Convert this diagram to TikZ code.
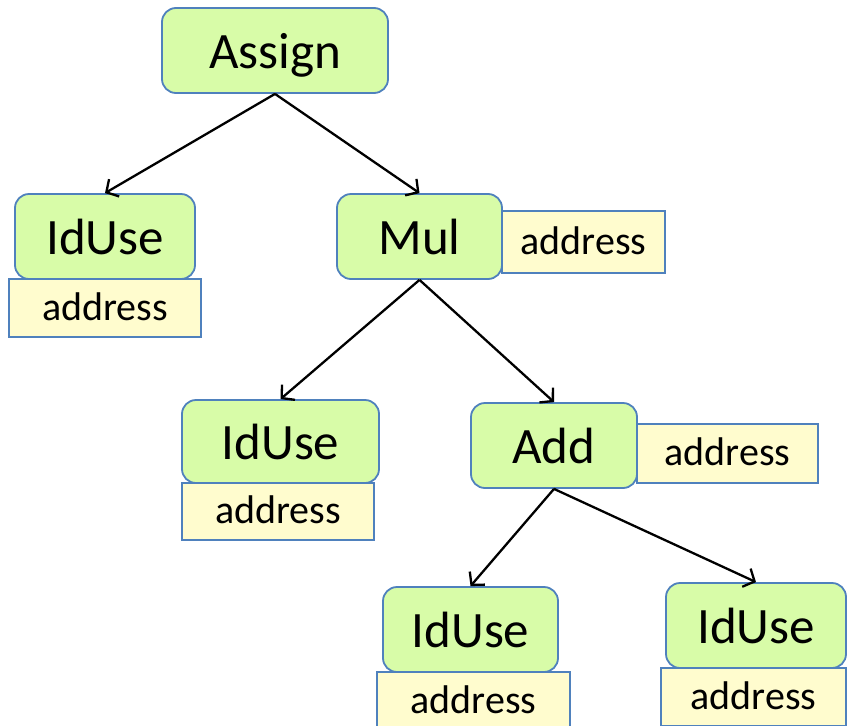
\documentclass[tikz,border=0pt]{standalone}
\usepackage{fontspec}
\setmainfont{Carlito}
\usetikzlibrary{arrows.meta}
\definecolor{nodegreen}{RGB}{216,252,168}
\definecolor{attryellow}{RGB}{255,252,206}
\definecolor{edgeblue}{RGB}{79,129,189}

\begin{document}
\begin{tikzpicture}[
        x=1pt,y=-1pt,
        astnode/.style={draw=edgeblue,fill=nodegreen,rounded corners=14pt,line width=1.8pt,
            inner sep=0pt,minimum height=85pt,text height=40pt,text depth=5pt,
            font=\fontsize{51}{56}\selectfont},
        attr/.style={draw=edgeblue,fill=attryellow,line width=1.8pt,inner sep=0pt,
            text height=30pt,text depth=6pt,font=\fontsize{40}{44}\selectfont},
        edge/.style={line width=2.3pt,-{Straight Barb[length=9pt,width=20pt,line width=2.3pt]}}
    ]
        \useasboundingbox (0,0) rectangle (847,726);

        \node [astnode,minimum width=226pt] (assign) at (275,50.5) {Assign};
        \node [astnode,minimum width=180pt] (idA) at (105,236.5) {IdUse};
        \node [astnode,minimum width=165pt] (mul) at (419.5,236.5) {Mul};
        \node [astnode,minimum width=197pt,minimum height=83pt] (idB) at (280.5,441.5) {IdUse};
        \node [astnode,minimum width=166pt] (add) at (554,445.5) {Add};
        \node [astnode,minimum width=175pt] (idC) at (470.5,629.5) {IdUse};
        \node [astnode,minimum width=180pt] (idD) at (756,625.5) {IdUse};

        \node [attr,minimum width=192pt,minimum height=58pt] (addrA) at (105,308) {address};
        \node [attr,minimum width=163pt,minimum height=62pt] (addrM) at (583.5,242) {address};
        \node [attr,minimum width=192pt,minimum height=57pt] (addrB) at (278,511.5) {address};
        \node [attr,minimum width=181pt,minimum height=59pt] (addrD) at (727.5,453.5) {address};
        \node [attr,minimum width=193pt,minimum height=58pt] (addrC) at (473.5,701) {address};
        \node [attr,minimum width=185pt,minimum height=58pt] (addrE) at (753.5,697) {address};

        \draw [edge] (assign.south) -- (idA.north);
        \draw [edge] (assign.south) -- (mul.north);
        \draw [edge] (mul.south) -- (idB.north);
        \draw [edge] (mul.south) -- (add.north);
        \draw [edge] (add.south) -- (idC.north);
        \draw [edge] (add.south) -- (idD.north);
    \end{tikzpicture}
\end{document}
